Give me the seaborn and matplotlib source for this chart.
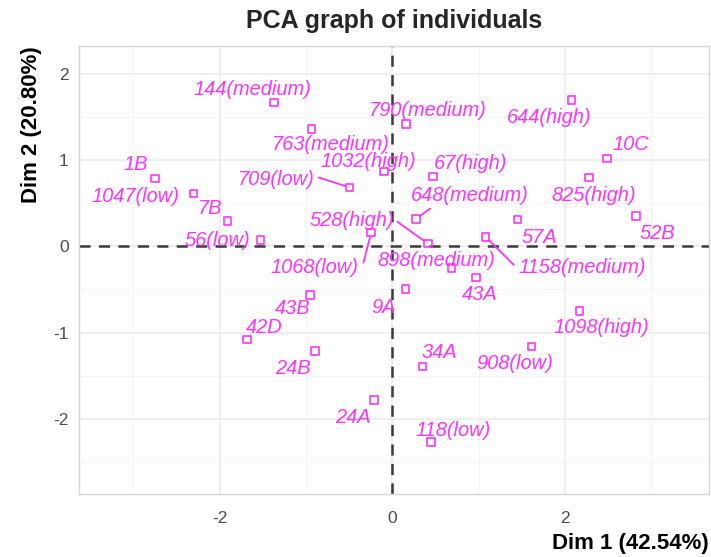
import matplotlib
matplotlib.use("Agg")
import matplotlib.pyplot as plt
import pandas as pd
import seaborn as sns

# Individual coordinates on the first two principal components
names = ["144(medium)", "763(medium)", "1B", "1047(low)", "7B", "56(low)",
         "709(low)", "1032(high)", "528(high)", "1068(low)", "790(medium)",
         "644(high)", "10C", "67(high)", "825(high)", "648(medium)", "57A",
         "52B", "1158(medium)", "898(medium)", "43A", "9A", "1098(high)",
         "908(low)", "34A", "118(low)", "43B", "42D", "24B", "24A"]
dim1 = [-1.369, -0.934, -2.752, -2.302, -1.911, -1.527,
        -0.496, -0.093, 0.411, -0.244, 0.159,
        2.078, 2.488, 0.469, 2.283, 0.275, 1.453,
        2.822, 1.081, 0.686, 0.973, 0.151, 2.171,
        1.612, 0.349, 0.450, -0.953, -1.686, -0.895, -0.209]
dim2 = [1.666, 1.357, 0.787, 0.613, 0.291, 0.070,
        0.682, 0.864, 0.031, 0.160, 1.415,
        1.694, 1.016, 0.810, 0.798, 0.318, 0.310,
        0.349, 0.110, -0.255, -0.362, -0.496, -0.748,
        -1.159, -1.391, -2.271, -0.566, -1.078, -1.213, -1.779]
dim1_var = 42.54
dim2_var = 20.80

# Label placement (pixel offsets of the text centre from its point)
label_dx = [-22, 19, -19, -58, -17, -43, -73, -16, -76, -57, 22,
            -22, 24, 38, 4, 54, 22, 22, 97, -15, 3, -22, 22,
            -17, 17, 22, -17, 17, -22, -21]
label_dy = [-13, 15, -14, 3, -13, 0, -8, -10, -23, 35, -14,
            17, -14, -13, 18, -23, 18, 17, 31, -8, 17, 18, 17,
            17, -14, -12, 13, -12, 18, 18]
# Leader segments: where on the label box each segment starts
leader = {"709(low)": (1.05, 0.6), "528(high)": (1.02, 0.5),
          "1068(low)": (1.06, 0.75), "648(medium)": (0.2, 0.0),
          "1158(medium)": (-0.04, 0.65)}

df = pd.DataFrame({"name": names, "Dim1": dim1, "Dim2": dim2})

sns.set_theme(style="whitegrid")
plt.rcParams["font.family"] = ["Liberation Sans", "DejaVu Sans"]
plt.rcParams["lines.scale_dashes"] = False
plt.rcParams["axes.unicode_minus"] = False

W, H, DPI = 711, 557, 100
fig = plt.figure(figsize=(W / DPI, H / DPI), dpi=DPI)
ax = fig.add_axes([79 / W, (H - 494) / H, (709 - 79) / W, (494 - 46) / H])

mag = "#FF33FF"
sns.scatterplot(data=df, x="Dim1", y="Dim2", marker="s", s=30, ax=ax,
                color=mag, legend=False, zorder=3)
pts = ax.collections[-1]
pts.set_facecolor("none")
pts.set_edgecolor(mag)
pts.set_linewidth(1.2)

ax.set_xlim(-3.63, 3.67)
ax.set_ylim(-2.87, 2.32)

ax.axhline(0, color="#3A3A3A", lw=1.8, dashes=(8, 6), zorder=2)
ax.axvline(0, color="#3A3A3A", lw=1.8, dashes=(8, 6), zorder=2)

px = 72 / DPI
for name, x, y, dx, dy in zip(names, dim1, dim2, label_dx, label_dy):
    kw = {}
    if name in leader:
        kw["arrowprops"] = dict(arrowstyle="-", color=mag, lw=1.3,
                                shrinkA=0, shrinkB=3.5, relpos=leader[name])
    ax.annotate(name, xy=(x, y), xytext=(dx * px, -dy * px),
                textcoords="offset points", ha="center", va="center",
                fontsize=14.4, style="italic", color=mag, zorder=4, **kw)

# grid and frame
ax.set_xticks([-2, 0, 2])
ax.set_xticks([-3, -1, 1, 3], minor=True)
ax.set_yticks([-2, -1, 0, 1, 2])
ax.set_yticks([-2.5, -1.5, -0.5, 0.5, 1.5], minor=True)
ax.grid(which="major", color="#EBEBEB", lw=1.1)
ax.grid(which="minor", color="#F2F2F2", lw=0.6)
ax.set_axisbelow(True)
for sp in ax.spines.values():
    sp.set_visible(True)
    sp.set_color("#D6D6D6")
    sp.set_linewidth(1.0)
ax.tick_params(which="major", length=4.3, width=0.8, color="#C8C8C8",
               labelsize=12.5, labelcolor="#4D4D4D")
ax.tick_params(axis="x", which="major", pad=8)
ax.tick_params(axis="y", which="major", pad=3)
ax.tick_params(which="minor", length=0)

ax.set_xlabel(f"Dim 1 ({dim1_var:.2f}%)", loc="right", fontsize=16,
              fontweight="bold", color="black", labelpad=5)
ax.set_ylabel(f"Dim 2 ({dim2_var:.2f}%)", loc="top", fontsize=16,
              fontweight="bold", color="black", labelpad=8)
ax.set_title("PCA graph of individuals", fontsize=18, fontweight="bold",
             pad=13)

fig.savefig("out.png", dpi=DPI)
